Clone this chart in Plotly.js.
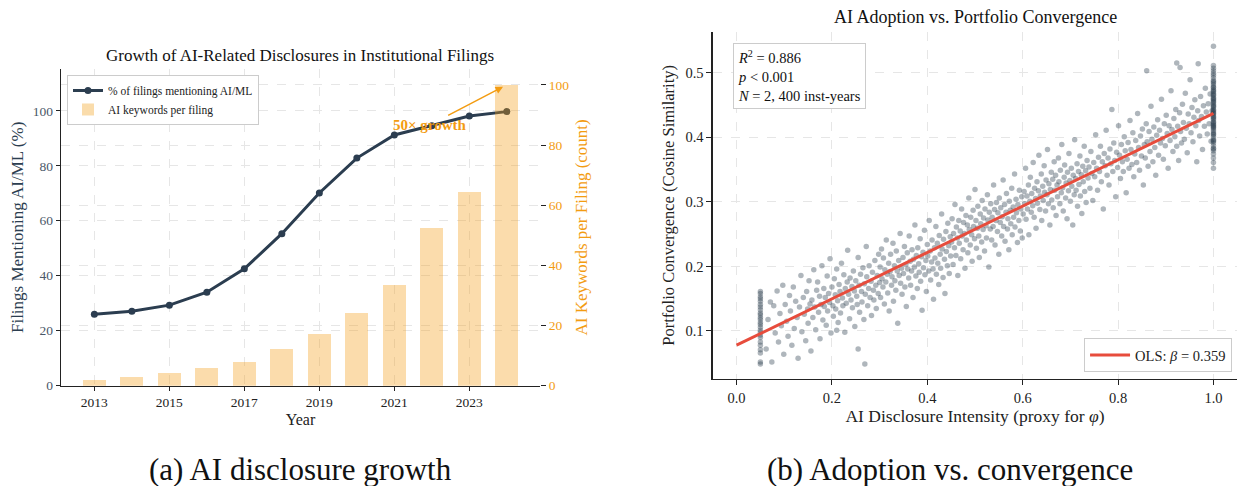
<!DOCTYPE html>
<html>
<head>
<meta charset="utf-8">
<script src="https://cdn.plot.ly/plotly-3.0.1.min.js"></script>
<style>html,body{margin:0;padding:0;background:#fff;}#chart{width:1238px;height:486px;}</style>
</head>
<body>
<div id="chart"></div>
<script>
// ---------- Panel (a) data ----------
const years = [2013, 2014, 2015, 2016, 2017, 2018, 2019, 2020, 2021, 2022, 2023, 2024];
const pctFilingsAI = [26.0, 27.1, 29.3, 34.0, 42.5, 55.3, 70.1, 82.8, 91.2, 94.6, 98.1, 99.7];
const keywordsPerFiling = [2.0, 3.0, 4.2, 6.0, 8.0, 12.2, 17.2, 24.2, 33.5, 52.4, 64.4, 100.0];
const yearTicks = [2013, 2015, 2017, 2019, 2021, 2023];

// ---------- Panel (b) data ----------
const ptsColumnLow = [[0.05,0.049],[0.05,0.052],[0.05,0.066],[0.05,0.071],[0.05,0.078],[0.05,0.083],[0.05,0.090],[0.05,0.094],[0.05,0.098],[0.05,0.101],[0.05,0.106],[0.05,0.110],[0.05,0.113],[0.05,0.118],[0.05,0.121],[0.05,0.125],[0.05,0.128],[0.05,0.133],[0.05,0.137],[0.05,0.141],[0.05,0.146],[0.05,0.150],[0.05,0.153],[0.05,0.158],[0.05,0.161]];
const ptsLow = [[0.062,0.072],[0.066,0.118],[0.071,0.145],[0.074,0.052],[0.078,0.139],[0.081,0.097],[0.085,0.162],[0.088,0.083],[0.091,0.127],[0.094,0.108],[0.097,0.171],[0.099,0.064],[0.102,0.141],[0.105,0.115],[0.108,0.092],[0.111,0.155],[0.113,0.131],[0.116,0.078],[0.119,0.168],[0.121,0.104],[0.124,0.146],[0.127,0.121],[0.129,0.058],[0.132,0.137],[0.135,0.186],[0.137,0.099],[0.14,0.152],[0.142,0.126],[0.145,0.085],[0.147,0.161],[0.149,0.134],[0.15,0.112],[0.152,0.178],[0.154,0.142],[0.156,0.069],
[0.158,0.148],[0.16,0.121],[0.162,0.195],[0.164,0.137],[0.166,0.102],[0.168,0.163],[0.17,0.176],[0.172,0.129],[0.174,0.154],[0.175,0.088],[0.177,0.141],[0.179,0.201],[0.181,0.117],[0.183,0.166],[0.184,0.138],[0.186,0.152],[0.188,0.109],[0.19,0.185],[0.191,0.131],[0.193,0.158],[0.195,0.144],[0.196,0.212],[0.198,0.097],[0.2,0.168],[0.202,0.139],[0.203,0.123],[0.205,0.181],[0.207,0.156],[0.208,0.134],[0.21,0.196],[0.212,0.147],[0.213,0.113],[0.215,0.172],[0.217,0.161],[0.218,0.128],[0.22,0.205],[0.222,0.151],[0.223,0.139],[0.225,0.187],[0.227,0.098],[0.228,0.166],[0.23,0.143],[0.232,0.176],[0.233,0.225],[0.235,0.157],[0.237,0.119],[0.238,0.182],[0.24,0.148],[0.242,0.169],[0.243,0.136],[0.245,0.193],[0.247,0.162],[0.248,0.107],[0.25,0.178],[0.252,0.154],[0.253,0.141],[0.255,0.214],[0.257,0.171],[0.258,0.129],[0.26,0.188],[0.262,0.161],[0.263,0.145],[0.265,0.198],[0.267,0.118],[0.268,0.173],[0.27,0.157],[0.272,0.231],[0.273,0.184],[0.275,0.139],[0.277,0.166],[0.278,0.201],[0.28,0.152],[0.282,0.177],[0.283,0.124],[0.285,0.191],[0.287,0.163],[0.288,0.148],[0.29,0.209],[0.292,0.171],[0.293,0.135],[0.295,0.186],[0.297,0.158],[0.298,0.219],[0.3,0.175],[0.269,0.049],[0.255,0.072],[0.21,0.101]];
const ptsMid = [[0.301,0.199],[0.302,0.152],[0.304,0.227],[0.305,0.181],[0.307,0.168],[0.308,0.213],[0.31,0.142],[0.311,0.195],[0.313,0.176],[0.314,0.241],[0.316,0.188],[0.317,0.159],[0.319,0.205],[0.32,0.131],[0.322,0.192],[0.323,0.219],[0.325,0.171],[0.326,0.184],[0.328,0.236],[0.329,0.146],[0.331,0.201],[0.332,0.178],[0.334,0.163],[0.335,0.224],[0.337,0.193],[0.338,0.112],[0.34,0.209],[0.341,0.186],[0.343,0.251],[0.344,0.174],[0.346,0.197],[0.347,0.157],[0.349,0.214],[0.35,0.189],[0.352,0.231],[0.353,0.168],[0.355,0.203],[0.356,0.138],[0.358,0.221],[0.359,0.196],[0.361,0.182],[0.362,0.247],[0.364,0.208],[0.365,0.171],[0.367,0.193],[0.368,0.226],[0.37,0.152],[0.371,0.211],[0.373,0.199],[0.374,0.264],[0.376,0.185],[0.377,0.217],[0.379,0.166],[0.38,0.229],[0.382,0.204],[0.383,0.191],[0.385,0.243],[0.386,0.177],[0.388,0.215],[0.389,0.132],[0.391,0.222],[0.392,0.198],[0.394,0.256],[0.395,0.187],[0.397,0.209],[0.398,0.161],[0.4,0.234],[0.401,0.216],[0.403,0.193],[0.404,0.271],[0.406,0.224],[0.407,0.179],[0.409,0.207],[0.41,0.241],[0.412,0.196],[0.413,0.149],[0.415,0.229],[0.416,0.213],[0.418,0.262],[0.419,0.188],[0.421,0.236],[0.422,0.205],[0.424,0.172],[0.425,0.248],[0.427,0.219],[0.428,0.197],[0.43,0.281],[0.431,0.227],[0.433,0.183],[0.434,0.242],[0.436,0.211],[0.437,0.158],[0.439,0.254],[0.44,0.223],[0.442,0.201],[0.443,0.267],[0.445,0.232],[0.446,0.189],[0.448,0.246],[0.449,0.216],
[0.451,0.238],[0.452,0.274],[0.454,0.203],[0.455,0.251],[0.457,0.229],[0.458,0.296],[0.46,0.217],[0.461,0.261],[0.463,0.244],[0.464,0.186],[0.466,0.271],[0.467,0.236],[0.469,0.255],[0.47,0.212],[0.472,0.289],[0.473,0.247],[0.475,0.226],[0.476,0.268],[0.478,0.251],[0.479,0.197],[0.481,0.279],[0.482,0.241],[0.484,0.264],[0.485,0.221],[0.487,0.306],[0.488,0.257],[0.49,0.233],[0.491,0.276],[0.493,0.249],[0.494,0.208],[0.496,0.287],[0.497,0.262],[0.499,0.243],[0.5,0.319],[0.502,0.271],[0.503,0.228],[0.505,0.259],[0.506,0.293],[0.508,0.247],[0.509,0.214],[0.511,0.281],[0.512,0.266],[0.514,0.238],[0.515,0.302],[0.517,0.257],[0.518,0.275],[0.52,0.224],[0.521,0.289],[0.523,0.263],[0.524,0.244],[0.526,0.311],[0.527,0.272],[0.529,0.199],[0.53,0.284],[0.532,0.258],[0.533,0.297],[0.535,0.241],[0.536,0.276],[0.538,0.262],[0.539,0.326],[0.541,0.288],[0.542,0.233],[0.544,0.271],[0.545,0.299],[0.547,0.254],[0.548,0.283],[0.55,0.219],[0.551,0.306],[0.553,0.268],[0.554,0.291],[0.556,0.247],[0.557,0.277],[0.559,0.334],[0.56,0.262],[0.562,0.296],[0.563,0.239],[0.565,0.284],[0.566,0.313],[0.568,0.258],[0.569,0.274],[0.571,0.226],[0.572,0.301],[0.574,0.287],[0.575,0.266],[0.577,0.321],[0.578,0.249],[0.58,0.292],[0.581,0.276],[0.583,0.343],[0.584,0.261],[0.586,0.304],[0.587,0.283],[0.589,0.237],[0.59,0.296],[0.592,0.271],[0.593,0.318],[0.595,0.255],[0.596,0.289],[0.598,0.308],[0.599,0.244]];
const ptsHigh = [[0.601,0.281],[0.603,0.316],[0.604,0.297],[0.606,0.352],[0.607,0.273],[0.609,0.309],[0.61,0.289],[0.612,0.326],[0.613,0.249],[0.615,0.301],[0.616,0.338],[0.618,0.284],[0.619,0.313],[0.621,0.294],[0.622,0.361],[0.624,0.276],[0.625,0.321],[0.627,0.305],[0.628,0.259],[0.63,0.331],[0.631,0.298],[0.633,0.317],[0.634,0.372],[0.636,0.288],[0.637,0.309],[0.639,0.343],[0.64,0.271],[0.642,0.324],[0.643,0.302],[0.645,0.356],[0.646,0.315],[0.648,0.286],[0.649,0.334],[0.651,0.311],[0.652,0.381],[0.654,0.297],[0.655,0.328],[0.657,0.264],[0.658,0.319],[0.66,0.346],[0.661,0.303],[0.663,0.335],[0.664,0.291],[0.666,0.362],[0.667,0.318],[0.669,0.341],[0.67,0.279],[0.672,0.326],[0.673,0.308],[0.675,0.368],[0.676,0.331],[0.678,0.297],[0.679,0.349],[0.681,0.314],[0.682,0.389],[0.684,0.322],[0.685,0.286],[0.687,0.338],[0.688,0.357],[0.69,0.306],[0.691,0.329],[0.693,0.274],[0.694,0.346],[0.696,0.317],[0.697,0.375],[0.699,0.333],[0.7,0.301],[0.702,0.352],[0.703,0.324],[0.705,0.264],[0.706,0.341],[0.708,0.311],[0.709,0.396],[0.711,0.336],[0.712,0.318],[0.714,0.359],[0.715,0.293],[0.717,0.347],[0.718,0.327],[0.72,0.371],[0.721,0.309],[0.723,0.342],[0.724,0.282],[0.726,0.355],[0.727,0.331],[0.729,0.386],[0.73,0.316],[0.732,0.348],[0.733,0.299],[0.735,0.364],
[0.737,0.337],[0.739,0.354],[0.741,0.321],[0.743,0.378],[0.745,0.344],[0.747,0.302],[0.749,0.361],[0.751,0.339],[0.753,0.404],[0.755,0.352],[0.757,0.318],[0.759,0.369],[0.761,0.347],[0.763,0.386],[0.765,0.331],[0.767,0.362],[0.769,0.289],[0.771,0.375],[0.773,0.356],[0.775,0.411],[0.777,0.341],[0.779,0.368],[0.781,0.326],[0.783,0.382],[0.785,0.359],[0.787,0.443],[0.789,0.347],[0.791,0.391],[0.793,0.364],[0.795,0.308],[0.797,0.377],[0.799,0.353],[0.801,0.418],[0.803,0.372],[0.805,0.336],[0.807,0.389],[0.809,0.362],[0.811,0.347],[0.813,0.401],[0.815,0.379],[0.817,0.314],[0.819,0.366],[0.821,0.392],[0.823,0.352],[0.825,0.426],[0.827,0.381],[0.829,0.358],[0.831,0.407],[0.833,0.339],[0.835,0.374],[0.837,0.395],[0.839,0.361],[0.841,0.437],[0.843,0.384],[0.845,0.349],[0.847,0.402],[0.849,0.371],[0.851,0.413],[0.853,0.326],[0.855,0.389],[0.857,0.368],[0.859,0.421],[0.861,0.393],[0.863,0.355],[0.865,0.409],[0.867,0.378],[0.869,0.448],[0.871,0.397],[0.873,0.362],[0.875,0.416],[0.877,0.384],[0.879,0.341],[0.881,0.403],[0.883,0.427],[0.885,0.372],[0.887,0.411],[0.889,0.391],[0.891,0.459],[0.893,0.398],[0.895,0.366],[0.897,0.421],[0.899,0.387],[0.901,0.434],[0.903,0.406],[0.905,0.352],[0.907,0.418],[0.909,0.395],[0.911,0.472],[0.913,0.412],[0.915,0.378],[0.917,0.429],[0.919,0.401],[0.921,0.443],[0.923,0.386],[0.925,0.417],[0.927,0.364],[0.929,0.438],[0.931,0.409],[0.933,0.391],[0.935,0.451],[0.937,0.423],[0.939,0.397],[0.941,0.468],[0.943,0.414],[0.945,0.376],[0.947,0.436],[0.949,0.421],[0.951,0.489],[0.953,0.407],[0.955,0.446],[0.957,0.393],[0.959,0.431],[0.961,0.458],[0.963,0.418],[0.965,0.362],[0.967,0.441],[0.969,0.426],[0.971,0.402],[0.973,0.463],[0.975,0.432],[0.977,0.381],[0.979,0.449],[0.981,0.417],[0.983,0.476],[0.985,0.439],[0.987,0.405],[0.989,0.452],[0.991,0.421],[0.993,0.467],[0.995,0.394],[0.997,0.441],[0.923,0.515],[0.93,0.508],[0.86,0.503],[0.968,0.514]];
const ptsColumnHigh = [[1,0.352],[1,0.361],[1,0.368],[1,0.374],[1,0.379],[1,0.383],[1,0.387],[1,0.391],[1,0.394],[1,0.397],[1,0.401],[1,0.404],[1,0.407],[1,0.41],[1,0.413],[1,0.416],[1,0.419],[1,0.421],[1,0.424],[1,0.427],[1,0.429],[1,0.432],[1,0.435],[1,0.437],[1,0.44],[1,0.443],[1,0.446],[1,0.448],[1,0.451],[1,0.454],[1,0.457],[1,0.46],[1,0.462],[1,0.465],[1,0.468],[1,0.471],[1,0.474],[1,0.477],[1,0.481],[1,0.484],[1,0.488],[1,0.492],[1,0.496],[1,0.499],[1,0.503],[1,0.507],[1,0.511],[1,0.541],[1,0.405],[1,0.418],[1,0.431],[1,0.442],[1,0.455],[1,0.466],[1,0.478],[1,0.486],[1,0.395],[1,0.423],[1,0.438],[1,0.449],[1,0.459],[1,0.472],[1,0.382],[1,0.415]];
const olsX = [0, 1];
const olsY = [0.078, 0.437];
const xTicksB = [0, 0.2, 0.4, 0.6, 0.8, 1.0];
const xTickTextB = ['0.0', '0.2', '0.4', '0.6', '0.8', '1.0'];
const yTicksB = [0.1, 0.2, 0.3, 0.4, 0.5];

const allPts = ptsColumnLow.concat(ptsLow, ptsMid, ptsHigh, ptsColumnHigh);
const scatX = allPts.map(p => p[0]);
const scatY = allPts.map(p => p[1]);

const SERIF = 'Liberation Serif, Times New Roman, serif';
const NAVY = '#2c3e50';
const ORANGE = '#f39c12';
const GRID = '#e6e6e6';
const AX = '#222222';

const traces = [
  { type: 'scatter', mode: 'lines+markers', x: years, y: pctFilingsAI, xaxis: 'x', yaxis: 'y',
    name: '% of filings mentioning AI/ML', line: { color: NAVY, width: 3 }, marker: { color: NAVY, size: 7 }, legend: 'legend' },
  { type: 'bar', x: years, y: keywordsPerFiling, xaxis: 'x', yaxis: 'y2', width: 0.62,
    name: 'AI keywords per filing', marker: { color: ORANGE, line: { width: 0 } }, opacity: 0.35, legend: 'legend' },
  { type: 'scatter', mode: 'markers', x: scatX, y: scatY, xaxis: 'x2', yaxis: 'y3', showlegend: false,
    marker: { color: NAVY, size: 5.5, opacity: 0.38 } },
  { type: 'scatter', mode: 'lines', x: olsX, y: olsY, xaxis: 'x2', yaxis: 'y3',
    name: 'OLS: <i>β</i> = 0.359', line: { color: '#e74c3c', width: 3 }, legend: 'legend2' }
];

const layout = {
  width: 1238, height: 486,
  margin: { l: 0, r: 0, t: 0, b: 0 },
  paper_bgcolor: '#fff', plot_bgcolor: 'rgba(0,0,0,0)',
  font: { family: SERIF, color: AX, size: 13 },
  showlegend: true,
  bargap: 0,
  xaxis: { domain: [0.04927, 0.43619], anchor: 'y', range: [2012.11, 2024.885], tickvals: yearTicks,
    ticks: 'outside', ticklen: 4, tickcolor: AX, showline: true, linecolor: AX, linewidth: 1.3,
    showgrid: true, gridcolor: GRID, griddash: 'dash', zeroline: false,
    tickfont: { size: 13.5, color: AX }, title: { text: 'Year', font: { size: 16, color: AX }, standoff: 4 } },
  yaxis: { domain: [0.2064, 0.858], anchor: 'x', range: [0, 115.2], tickvals: [0, 20, 40, 60, 80, 100],
    ticks: 'outside', ticklen: 4, tickcolor: AX, showline: true, linecolor: AX, linewidth: 1.3,
    showgrid: true, gridcolor: GRID, griddash: 'dash', zeroline: false,
    tickfont: { size: 13.5, color: '#4a5868' }, title: { text: 'Filings Mentioning AI/ML (%)', font: { size: 17, color: NAVY }, standoff: 4 } },
  yaxis2: { overlaying: 'y', side: 'right', anchor: 'x', range: [0, 105.3], tickvals: [0, 20, 40, 60, 80, 100],
    ticks: 'outside', ticklen: 5, tickcolor: AX, showline: false, showgrid: true, gridcolor: GRID, griddash: 'dash', zeroline: false,
    tickfont: { size: 13.5, color: ORANGE }, title: { text: 'AI Keywords per Filing (count)', font: { size: 17, color: ORANGE }, standoff: 6 } },
  xaxis2: { domain: [0.57569, 0.99943], anchor: 'y3', range: [-0.05, 1.05], tickvals: xTicksB, ticktext: xTickTextB,
    ticks: 'outside', ticklen: 5, tickcolor: AX, showline: true, linecolor: AX, linewidth: 1.3,
    showgrid: true, gridcolor: GRID, griddash: 'dash', zeroline: false,
    tickfont: { size: 14.5, color: AX }, title: { text: 'AI Disclosure Intensity (proxy for <i>φ</i>)', font: { size: 17.5, color: AX }, standoff: 1 } },
  yaxis3: { domain: [0.2202, 0.9348], anchor: 'x2', range: [0.0257, 0.5635], tickvals: yTicksB,
    ticks: 'outside', ticklen: 5, tickcolor: AX, showline: true, linecolor: AX, linewidth: 1.3,
    showgrid: true, gridcolor: GRID, griddash: 'dash', zeroline: false,
    tickfont: { size: 14.5, color: AX }, title: { text: 'Portfolio Convergence (Cosine Similarity)', font: { size: 16.5, color: AX }, standoff: 6 } },
  legend: { x: 0.0541, y: 0.8457, xanchor: 'left', yanchor: 'top', bgcolor: '#fff', bordercolor: '#cccccc', borderwidth: 1,
    font: { size: 11.5, color: AX }, traceorder: 'normal', itemwidth: 30, tracegroupgap: 0 },
  legend2: { x: 0.9952, y: 0.2346, xanchor: 'right', yanchor: 'bottom', bgcolor: '#fff', bordercolor: '#cccccc', borderwidth: 1,
    font: { size: 14.5, color: AX }, itemwidth: 40 },
  annotations: [
    { xref: 'paper', yref: 'paper', x: 0.2427, y: 0.8868, text: 'Growth of AI-Related Disclosures in Institutional Filings',
      showarrow: false, xanchor: 'center', yanchor: 'middle', font: { size: 17, color: '#111' } },
    { xref: 'paper', yref: 'paper', x: 0.7876, y: 0.965, text: 'AI Adoption vs. Portfolio Convergence',
      showarrow: false, xanchor: 'center', yanchor: 'middle', font: { size: 18, color: '#111' } },
    { xref: 'paper', yref: 'paper', x: 0.2431, y: 0.033, text: '(a) AI disclosure growth',
      showarrow: false, xanchor: 'center', yanchor: 'middle', font: { size: 31, color: '#111' } },
    { xref: 'paper', yref: 'paper', x: 0.7674, y: 0.033, text: '(b) Adoption vs. convergence',
      showarrow: false, xanchor: 'center', yanchor: 'middle', font: { size: 31, color: '#111' } },
    { xref: 'paper', yref: 'paper', x: 0.5923, y: 0.9121, xanchor: 'left', yanchor: 'top', align: 'left', showarrow: false,
      text: '<i>R</i><sup>2</sup> = 0.886<br><i>p</i> &lt; 0.001<br><i>N</i> = 2, 400 inst-years',
      bgcolor: '#fff', bordercolor: '#cccccc', borderwidth: 1, borderpad: 4, font: { size: 14.5, color: '#111' } },
    { xref: 'x', yref: 'y2', x: 2023.9, y: 99.4, axref: 'x', ayref: 'y2', ax: 2021.95, ay: 86.7,
      text: '<b>50× growth</b>', font: { size: 15, color: ORANGE },
      showarrow: true, arrowhead: 2, arrowsize: 1, arrowwidth: 1.5, arrowcolor: ORANGE }
  ]
};

Plotly.newPlot('chart', traces, layout, { displayModeBar: false, staticPlot: true });
</script>
</body>
</html>
